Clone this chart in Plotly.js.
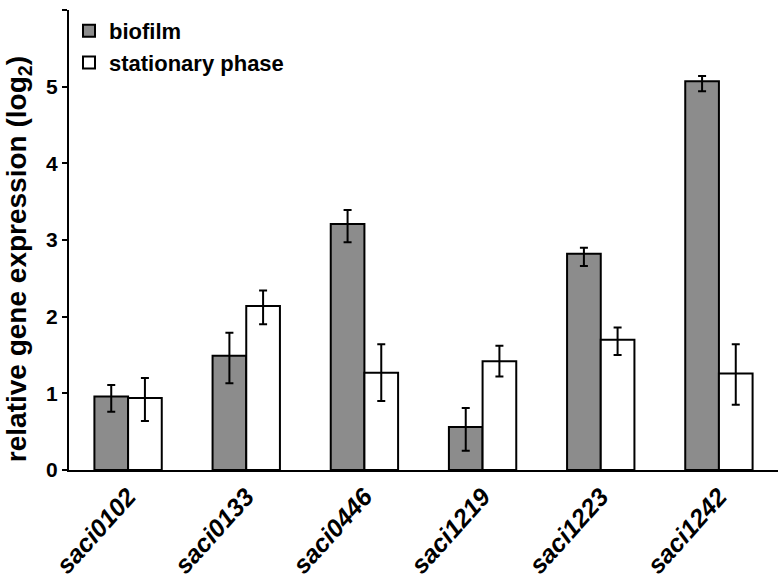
<!DOCTYPE html>
<html>
<head>
<meta charset="utf-8">
<script src="https://cdn.plot.ly/plotly-3.0.1.min.js"></script>
<style>html,body{margin:0;padding:0;background:#fff;}</style>
</head>
<body>
<div id="chart" style="width:781px;height:581px;"></div>
<script>
const genes = ["saci0102", "saci0133", "saci0446", "saci1219", "saci1223", "saci1242"];
const biofilm = [0.96, 1.49, 3.21, 0.56, 2.82, 5.07];
const biofilmErrPlus = [0.15, 0.30, 0.18, 0.25, 0.08, 0.07];
const biofilmErrMinus = [0.20, 0.36, 0.24, 0.31, 0.16, 0.13];
const stationary = [0.94, 2.14, 1.27, 1.42, 1.70, 1.26];
const stationaryErrPlus = [0.26, 0.20, 0.37, 0.20, 0.16, 0.38];
const stationaryErrMinus = [0.30, 0.24, 0.37, 0.20, 0.20, 0.41];
const yTicks = [0, 1, 2, 3, 4, 5, 6];
const yTitle = "relative gene expression (log<sub>2</sub>)";

const fontFam = "Liberation Sans, Arial, sans-serif";

const traces = [
  {
    type: "bar", name: "biofilm", x: genes, y: biofilm,
    marker: {color: "#8c8c8c", line: {color: "#000", width: 2}},
    error_y: {type: "data", symmetric: false, array: biofilmErrPlus, arrayminus: biofilmErrMinus,
              color: "#000", thickness: 2, width: 4}
  },
  {
    type: "bar", name: "stationary phase", x: genes, y: stationary,
    marker: {color: "#ffffff", line: {color: "#000", width: 2}},
    error_y: {type: "data", symmetric: false, array: stationaryErrPlus, arrayminus: stationaryErrMinus,
              color: "#000", thickness: 2, width: 4}
  }
];

const layout = {
  width: 781, height: 581,
  margin: {l: 69, r: 3, t: 10, b: 111},
  paper_bgcolor: "#fff", plot_bgcolor: "#fff",
  barmode: "group", bargap: 0.43, bargroupgap: 0,
  showlegend: true,
  legend: {x: 0.0, y: 1.0, xanchor: "left", yanchor: "top", bgcolor: "rgba(0,0,0,0)",
           font: {family: fontFam, size: 22, color: "#000", weight: "bold"},
           itemwidth: 30},
  font: {family: fontFam, color: "#000"},
  xaxis: {
    showline: true, linecolor: "#000", linewidth: 2, ticks: "", showgrid: false,
    tickangle: -48, tickfont: {family: fontFam, size: 25, weight: "bold", style: "italic", color: "#000"},
    zeroline: false
  },
  yaxis: {
    range: [0, 6], tickvals: yTicks, ticktext: yTicks.map(String),
    showline: true, linecolor: "#000", linewidth: 2, ticks: "outside", ticklen: 5, tickwidth: 2, tickcolor: "#000",
    showgrid: false, zeroline: false,
    tickfont: {family: fontFam, size: 21, weight: "bold", color: "#000"}
  },
  annotations: [{
    text: yTitle, textangle: -90, showarrow: false,
    xref: "paper", x: 0, xanchor: "center", xshift: -51,
    yref: "y", y: 2.75, yanchor: "middle",
    font: {family: fontFam, size: 28, weight: "bold", color: "#000"}
  }]
};

Plotly.newPlot("chart", traces, layout, {displayModeBar: false, staticPlot: true});
</script>
</body>
</html>
